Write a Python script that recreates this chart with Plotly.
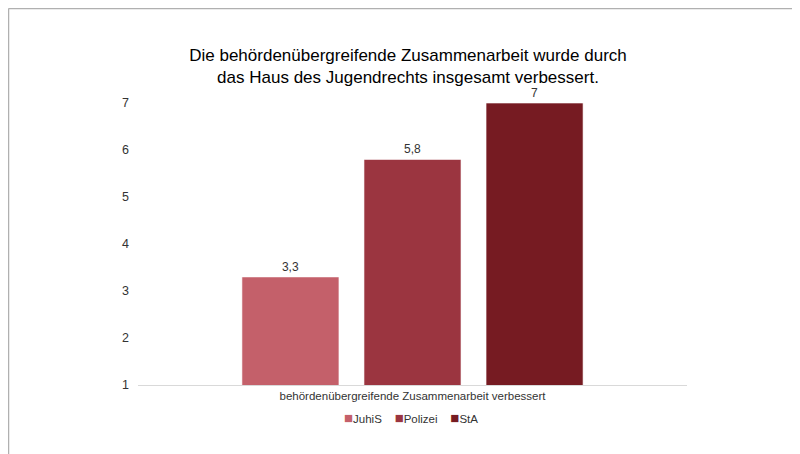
import plotly.graph_objects as go

category = ["behördenübergreifende Zusammenarbeit verbessert"]
series_names = ["JuhiS", "Polizei", "StA"]
series_values = [[3.3], [5.8], [7.0]]
colors = ["#C4606A", "#9B3540", "#761B22"]
title_text = "Die behördenübergreifende Zusammenarbeit wurde durch<br>das Haus des Jugendrechts insgesamt verbessert."
y_ticks = [1, 2, 3, 4, 5, 6, 7]

# page body has an 8px margin; coordinates below are in the figure's own pixels
L, T, W, H = 130, 95, 549, 282

fig = go.Figure()
for name, vals, col in zip(series_names, series_values, colors):
    fig.add_trace(go.Bar(
        x=category, y=vals, name=name,
        marker=dict(color=col, line=dict(color="rgba(255,255,255,0.6)", width=1)),
        text=[f"{v:g}".replace(".", ",") for v in vals],
        textposition="outside", cliponaxis=False,
        textfont=dict(family="Liberation Sans, Arial", size=12, color="#333333"),
    ))

# compact legend row (square marker + name), built from the series arrays
legend_text = "\u00a0\u00a0\u00a0\u00a0".join(
    f'<span style="color:{c};font-size:15px">■</span>{n}'
    for n, c in zip(series_names, colors)
)

fig.update_layout(
    width=800, height=454,
    margin=dict(l=L, r=800 - L - W, t=T, b=454 - T - H),
    paper_bgcolor="white", plot_bgcolor="white",
    barmode="group", bargap=0.333, bargroupgap=0.205,
    title=dict(text=title_text, x=0.5, xref="container", xanchor="center",
               y=1 - 52.5 / 454, yref="container", yanchor="middle",
               font=dict(family="Liberation Sans, Arial", size=17, color="#000000")),
    font=dict(family="Liberation Sans, Arial", size=12, color="#333333"),
    showlegend=False,
    annotations=[dict(text=legend_text, xref="paper", yref="paper",
                      x=(403 - L) / W, y=-32 / H, xanchor="center", yanchor="middle",
                      showarrow=False,
                      font=dict(family="Liberation Sans, Arial", size=11.5, color="#333333"))],
    xaxis=dict(range=[-0.5, 0.5], showgrid=False, showline=True, linecolor="#D9D9D9",
               linewidth=1, ticks="", tickfont=dict(size=11.5, color="#333333")),
    yaxis=dict(range=[1, 7], tickvals=y_ticks, showgrid=False, showline=False,
               zeroline=False, ticks="", ticklabelstandoff=8,
               tickfont=dict(size=12.5, color="#333333")),
    shapes=[
        dict(type="line", xref="paper", yref="paper",
             x0=(0.5 - L) / W, x1=(800 - L) / W,
             y0=(T + H - 0.5) / H, y1=(T + H - 0.5) / H,
             line=dict(color="#B0B0B0", width=1.5)),
        dict(type="line", xref="paper", yref="paper",
             x0=(0.5 - L) / W, x1=(0.5 - L) / W,
             y0=(T + H - 0.5) / H, y1=(T + H - 460) / H,
             line=dict(color="#B0B0B0", width=1.5)),
    ],
)

fig.write_html("out.html")
